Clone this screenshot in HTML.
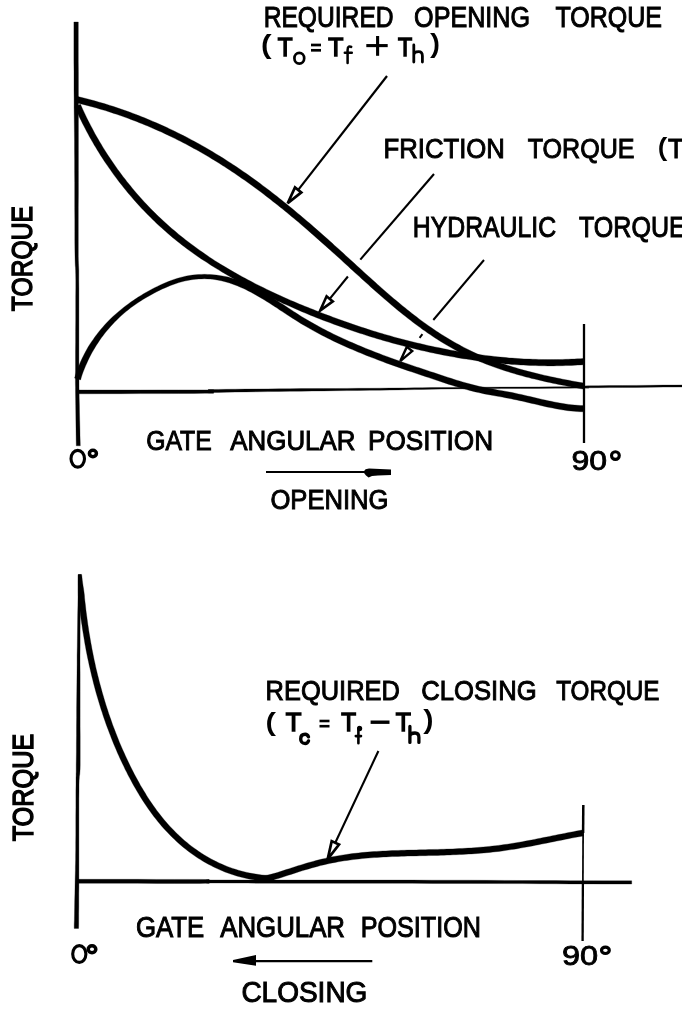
<!DOCTYPE html>
<html><head><meta charset="utf-8"><title>Gate torque curves</title>
<style>
html,body{margin:0;padding:0;background:#fff;}
body{width:682px;height:1009px;overflow:hidden;font-family:"Liberation Sans",sans-serif;}
svg{display:block;filter:blur(0.35px);}
svg text{font-family:"Liberation Sans",sans-serif;fill:#000;stroke:#000;stroke-width:1.0;}
</style></head>
<body>
<svg width="682" height="1009" viewBox="0 0 682 1009" stroke="#000" stroke-linecap="butt">
<rect x="0" y="0" width="682" height="1009" fill="#fff" stroke="none"/>
<line x1="387.0" y1="76.0" x2="298.2" y2="189.9" stroke-width="2.2"/>
<polygon points="287.7,203.3 295.0,187.4 301.3,192.4" fill="#fff" stroke-width="2.7" stroke-linejoin="miter"/>
<line x1="434.0" y1="174.0" x2="360.3" y2="259.6" stroke-width="2.1"/>
<line x1="347.9" y1="276.5" x2="329.7" y2="298.9" stroke-width="2.1"/>
<polygon points="320.2,310.5 326.6,296.3 332.8,301.4" fill="#fff" stroke-width="2.6" stroke-linejoin="miter"/>
<line x1="484.0" y1="260.0" x2="433.3" y2="320.0" stroke-width="2.0"/>
<line x1="422.4" y1="334.2" x2="419.6" y2="337.8" stroke-width="2.0"/>
<polygon points="400.3,361.1 406.8,346.9 412.2,351.1" fill="#fff" stroke-width="2.4" stroke-linejoin="miter"/>
<line x1="378.4" y1="751.0" x2="335.3" y2="842.8" stroke-width="2.1"/>
<polygon points="327.7,859.1 331.7,841.1 339.0,844.5" fill="#fff" stroke-width="2.7" stroke-linejoin="miter"/>
<polygon points="73.9,22.0 73.9,27.2 73.9,34.2 73.9,42.4 73.9,51.6 73.9,61.4 74.0,71.3 74.0,80.9 74.0,90.0 74.1,98.5 74.1,106.9 74.2,115.2 74.3,123.6 74.4,132.2 74.5,141.1 74.5,150.3 74.6,160.0 74.6,170.7 74.7,182.5 74.7,194.9 74.7,207.5 74.8,219.8 74.8,231.3 74.8,241.5 74.9,250.0 75.0,256.3 75.1,260.6 75.2,263.5 75.3,265.7 75.5,267.8 75.6,270.4 75.7,274.3 75.8,280.0 75.8,287.9 75.7,297.6 75.7,308.4 75.7,319.9 75.6,331.3 75.6,342.2 75.5,352.0 75.5,360.0 75.5,366.1 75.5,370.9 75.4,374.6 75.4,377.6 75.4,380.5 75.4,383.6 75.5,387.3 75.5,392.0 75.6,398.1 75.7,405.2 75.8,413.0 75.9,420.9 76.0,428.6 76.1,435.7 76.2,441.5 76.3,445.8 80.3,445.8 80.2,441.5 80.0,435.6 79.9,428.6 79.7,420.9 79.5,412.9 79.4,405.1 79.2,398.0 79.1,392.0 79.0,387.3 79.0,383.6 79.0,380.5 78.9,377.6 78.9,374.6 78.9,370.9 78.9,366.1 78.9,360.0 78.9,352.0 78.9,342.2 78.9,331.3 78.9,319.9 78.9,308.5 78.9,297.6 78.9,287.9 78.8,280.0 78.8,274.2 78.8,270.3 78.7,267.7 78.6,265.5 78.5,263.4 78.4,260.5 78.3,256.3 78.3,250.0 78.3,241.5 78.3,231.2 78.3,219.8 78.3,207.5 78.4,194.9 78.4,182.5 78.4,170.7 78.4,160.0 78.4,150.3 78.4,141.0 78.4,132.2 78.4,123.6 78.4,115.2 78.4,106.9 78.4,98.5 78.4,90.0 78.4,80.9 78.4,71.3 78.3,61.4 78.3,51.6 78.3,42.4 78.3,34.2 78.3,27.2 78.3,22.0" fill="#000" stroke="#000" stroke-width="0.3" stroke-linejoin="round"/>
<polygon points="77.0,393.8 87.7,393.8 102.8,393.7 120.9,393.7 140.6,393.6 160.2,393.6 178.5,393.5 193.9,393.4 205.0,393.3 211.2,393.3 213.7,393.2 213.5,389.8 211.7,389.7 209.6,389.7 208.4,389.6 208.6,392.6 212.0,392.5 218.3,392.4 226.2,392.2 235.5,392.1 245.8,391.9 256.8,391.8 268.0,391.6 279.2,391.4 290.0,391.3 300.8,391.2 312.1,391.0 323.6,390.9 335.3,390.7 347.0,390.6 358.4,390.5 369.5,390.3 380.0,390.2 389.6,390.1 398.2,389.9 406.3,389.7 414.2,389.6 422.4,389.4 431.4,389.3 441.4,389.1 453.0,388.9 467.1,388.8 483.7,388.7 501.8,388.6 520.4,388.5 538.6,388.4 555.2,388.3 569.4,388.2 580.0,388.1 586.3,388.1 588.9,388.1 588.8,386.3 587.2,386.2 585.4,386.1 585.0,387.8 585.7,387.9 590.0,387.8 598.2,387.7 609.4,387.6 622.5,387.5 636.6,387.4 650.6,387.3 663.6,387.1 674.3,387.1 682.0,387.0 682.0,385.0 674.3,385.1 663.5,385.1 650.6,385.3 636.6,385.4 622.5,385.5 609.4,385.6 598.2,385.7 590.0,385.8 585.6,385.9 584.0,386.2 585.3,387.9 587.2,388.0 588.6,388.0 588.8,386.4 586.3,386.5 580.0,386.7 569.3,386.7 555.2,386.8 538.6,386.9 520.4,387.0 501.8,387.1 483.7,387.2 467.1,387.3 453.0,387.5 441.4,387.5 431.3,387.6 422.4,387.7 414.2,387.8 406.2,387.9 398.2,388.0 389.6,388.1 380.0,388.2 369.5,388.3 358.4,388.3 347.0,388.4 335.3,388.5 323.6,388.5 312.0,388.6 300.8,388.6 290.0,388.7 279.2,388.8 268.0,388.9 256.7,389.0 245.8,389.1 235.5,389.2 226.2,389.3 218.2,389.4 212.0,389.5 208.5,389.6 207.8,392.7 209.4,392.9 211.6,393.0 213.3,393.1 213.5,389.8 211.2,389.8 205.0,389.9 193.9,389.9 178.5,389.9 160.2,389.9 140.6,390.0 120.9,390.0 102.8,390.0 87.7,390.0 77.0,390.0" fill="#000" stroke="#000" stroke-width="0.3" stroke-linejoin="round"/>
<line x1="584.0" y1="324.0" x2="584.0" y2="443.0" stroke-width="2.3"/>
<polygon points="78.5,574.5 78.4,578.7 78.3,584.1 78.2,590.6 78.0,597.8 77.9,605.7 77.7,613.8 77.6,622.0 77.5,630.0 77.4,638.1 77.3,646.6 77.1,655.4 77.1,664.4 77.0,673.5 76.9,682.5 76.8,691.4 76.7,700.0 76.6,708.7 76.6,717.7 76.5,726.7 76.5,735.6 76.4,744.1 76.4,752.0 76.3,759.1 76.2,765.0 76.2,769.3 76.2,772.0 76.1,773.7 76.1,774.8 76.1,776.1 76.0,777.8 76.0,780.6 76.0,785.0 75.9,791.2 75.9,798.9 75.9,807.5 75.8,816.7 75.8,826.1 75.8,835.0 75.7,843.1 75.7,850.0 75.6,855.5 75.6,860.0 75.5,863.8 75.4,867.1 75.4,870.4 75.3,873.7 75.2,877.5 75.1,882.0 75.0,887.4 74.9,893.6 74.7,900.4 74.6,907.2 74.5,913.7 74.4,919.7 74.2,924.7 74.2,928.4 78.6,928.4 78.7,924.8 78.7,919.8 78.7,913.8 78.8,907.2 78.8,900.4 78.8,893.7 78.9,887.5 78.9,882.0 78.9,877.6 78.9,873.8 78.9,870.4 78.9,867.2 78.9,863.8 78.9,860.0 78.9,855.5 78.9,850.0 78.9,843.2 78.9,835.0 78.9,826.1 78.9,816.8 78.9,807.5 78.9,798.9 79.0,791.2 79.0,785.0 79.1,780.7 79.3,778.0 79.4,776.3 79.6,775.2 79.8,773.9 79.9,772.2 80.1,769.4 80.2,765.0 80.2,759.1 80.2,752.0 80.2,744.1 80.2,735.6 80.1,726.7 80.1,717.7 80.1,708.7 80.1,700.0 80.1,691.4 80.1,682.5 80.1,673.5 80.0,664.4 80.0,655.4 80.1,646.6 80.1,638.1 80.1,630.0 80.2,622.0 80.3,613.8 80.5,605.7 80.6,597.9 80.8,590.6 80.9,584.2 81.0,578.7 81.1,574.5" fill="#000" stroke="#000" stroke-width="0.3" stroke-linejoin="round"/>
<polygon points="77.0,883.3 87.2,883.3 101.7,883.3 119.0,883.3 137.7,883.3 156.6,883.4 174.2,883.4 189.1,883.4 200.0,883.4 206.3,883.3 209.0,883.3 209.2,879.6 208.2,879.7 206.8,879.8 206.2,883.1 207.6,883.0 212.0,883.0 218.9,883.0 227.2,883.1 236.7,883.1 247.4,883.1 259.1,883.2 271.9,883.2 285.5,883.3 300.0,883.3 315.9,883.3 333.5,883.3 352.5,883.3 372.2,883.3 392.3,883.3 412.2,883.3 431.6,883.4 450.0,883.4 468.0,883.4 486.4,883.5 504.8,883.6 522.8,883.6 540.0,883.7 556.1,883.8 570.5,883.9 583.0,883.9 593.4,883.9 602.2,884.0 609.6,884.0 615.7,884.0 620.7,884.0 624.9,884.0 628.5,884.0 631.7,884.0 631.7,880.8 628.5,880.8 624.9,880.8 620.7,880.8 615.7,880.8 609.6,880.8 602.2,880.8 593.5,880.7 583.0,880.7 570.5,880.7 556.1,880.6 540.1,880.5 522.8,880.5 504.8,880.4 486.4,880.3 468.0,880.2 450.0,880.2 431.6,880.2 412.2,880.1 392.3,880.1 372.2,880.1 352.5,880.1 333.5,880.1 315.9,880.1 300.0,880.1 285.5,880.1 271.9,880.1 259.1,880.1 247.4,880.1 236.7,880.0 227.2,880.0 218.9,880.0 212.0,880.0 207.6,879.9 206.3,879.8 206.8,883.1 208.2,883.2 209.3,883.2 209.0,879.5 206.3,879.5 200.0,879.4 189.1,879.4 174.2,879.4 156.6,879.4 137.8,879.3 119.0,879.3 101.7,879.3 87.2,879.3 77.0,879.3" fill="#000" stroke="#000" stroke-width="0.3" stroke-linejoin="round"/>
<line x1="583.3" y1="805.0" x2="583.1" y2="833.0" stroke-width="2.5"/>
<line x1="583.1" y1="833.0" x2="582.9" y2="882.0" stroke-width="1.7"/>
<line x1="582.9" y1="882.0" x2="582.6" y2="940.9" stroke-width="2.3"/>
<polygon points="76.5,102.8 79.4,103.5 82.2,104.2 85.1,104.9 88.0,105.7 90.9,106.5 93.8,107.2 96.6,108.1 99.5,108.9 102.4,109.8 105.3,110.6 108.1,111.5 111.0,112.4 113.8,113.4 116.7,114.3 119.5,115.3 122.4,116.3 125.2,117.3 128.0,118.3 130.9,119.4 133.7,120.5 136.5,121.5 139.3,122.7 142.1,123.8 144.9,124.9 147.7,126.1 150.5,127.3 153.2,128.5 156.0,129.7 158.8,130.9 161.5,132.1 164.3,133.4 167.0,134.7 169.7,136.0 172.4,137.3 175.1,138.6 177.8,140.0 180.5,141.3 183.2,142.7 185.9,144.1 188.5,145.5 191.2,146.9 193.8,148.4 196.5,149.8 199.1,151.3 201.7,152.8 204.3,154.3 206.9,155.8 209.4,157.3 212.0,158.9 214.6,160.4 217.1,162.0 219.6,163.6 222.1,165.2 224.7,166.8 227.2,168.4 229.6,170.0 232.1,171.7 234.6,173.3 237.0,175.0 239.5,176.7 241.9,178.4 244.4,180.1 246.8,181.8 249.2,183.5 251.6,185.2 254.0,187.0 256.4,188.8 258.8,190.5 261.2,192.3 263.5,194.1 265.9,195.9 268.2,197.7 270.6,199.5 272.9,201.4 275.3,203.2 277.6,205.1 279.9,206.9 282.3,208.8 284.6,210.7 286.9,212.6 289.2,214.5 291.5,216.4 293.8,218.3 296.1,220.2 298.4,222.1 300.6,224.1 302.9,226.0 305.2,228.0 307.5,229.9 309.7,231.9 312.0,233.9 314.3,235.9 316.5,237.9 318.8,239.9 321.0,241.9 323.3,243.9 325.6,245.9 327.8,247.9 330.1,249.9 332.3,252.0 334.6,254.0 336.8,256.0 339.1,258.1 341.3,260.1 343.6,262.2 345.8,264.2 348.1,266.3 350.3,268.4 352.6,270.4 354.8,272.5 357.1,274.6 359.4,276.6 361.6,278.7 363.9,280.7 366.2,282.8 368.5,284.8 370.7,286.9 373.0,288.9 375.3,291.0 377.6,293.0 379.9,295.0 382.2,297.0 384.5,299.0 386.9,301.0 389.2,303.0 391.5,305.0 393.9,307.0 396.2,308.9 398.6,310.9 400.9,312.8 403.3,314.7 405.7,316.6 408.1,318.5 410.5,320.3 412.9,322.2 415.3,324.0 417.7,325.8 420.2,327.6 422.6,329.4 425.1,331.1 427.6,332.9 430.1,334.6 432.6,336.3 435.1,337.9 437.6,339.6 440.2,341.2 442.7,342.7 445.3,344.3 447.9,345.8 450.5,347.3 453.1,348.8 455.7,350.3 458.3,351.7 461.0,353.1 463.7,354.4 466.4,355.7 469.1,356.9 471.8,358.1 474.6,359.3 477.3,360.5 480.1,361.7 482.9,362.8 485.7,363.9 488.5,365.0 491.3,366.0 494.1,367.1 496.9,368.1 499.8,369.1 502.6,370.0 505.5,370.9 508.3,371.8 511.2,372.7 514.1,373.6 517.0,374.4 520.0,375.3 522.9,376.1 525.8,376.9 528.7,377.6 531.7,378.4 534.7,379.1 537.6,379.8 540.6,380.5 543.6,381.2 546.6,381.9 549.6,382.5 552.6,383.2 555.6,383.8 558.6,384.4 561.6,385.0 564.6,385.6 567.7,386.2 570.7,386.8 573.7,387.4 576.8,387.9 579.8,388.5 582.9,389.1 583.9,383.1 580.9,382.6 577.9,382.0 574.8,381.5 571.8,380.9 568.8,380.3 565.8,379.8 562.8,379.2 559.8,378.6 556.8,377.9 553.8,377.3 550.8,376.7 547.9,376.0 544.9,375.4 542.0,374.7 539.0,374.0 536.1,373.3 533.2,372.6 530.2,371.8 527.3,371.1 524.4,370.3 521.6,369.5 518.7,368.7 515.8,367.8 513.0,367.0 510.1,366.1 507.3,365.2 504.5,364.3 501.7,363.4 498.9,362.4 496.1,361.4 493.3,360.4 490.6,359.4 487.8,358.3 485.1,357.2 482.4,356.1 479.7,355.0 477.0,353.8 474.4,352.6 471.7,351.3 469.1,350.0 466.5,348.7 463.9,347.4 461.3,346.0 458.8,344.6 456.2,343.2 453.6,341.8 451.1,340.3 448.6,338.8 446.1,337.3 443.6,335.7 441.1,334.2 438.6,332.6 436.1,330.9 433.7,329.3 431.2,327.6 428.8,325.9 426.4,324.2 423.9,322.4 421.5,320.7 419.1,318.9 416.8,317.1 414.4,315.3 412.0,313.4 409.7,311.6 407.3,309.7 405.0,307.8 402.6,305.9 400.3,304.0 398.0,302.1 395.6,300.1 393.3,298.2 391.0,296.2 388.7,294.2 386.4,292.2 384.1,290.2 381.8,288.2 379.6,286.2 377.3,284.2 375.0,282.1 372.7,280.1 370.5,278.0 368.2,276.0 365.9,273.9 363.7,271.9 361.4,269.8 359.2,267.8 356.9,265.7 354.6,263.6 352.4,261.6 350.1,259.5 347.9,257.5 345.6,255.4 343.4,253.3 341.1,251.3 338.9,249.2 336.6,247.2 334.3,245.2 332.1,243.1 329.8,241.1 327.6,239.1 325.3,237.1 323.0,235.1 320.8,233.1 318.5,231.1 316.2,229.1 313.9,227.1 311.7,225.1 309.4,223.1 307.1,221.2 304.8,219.2 302.5,217.3 300.2,215.3 297.9,213.4 295.6,211.5 293.3,209.5 290.9,207.6 288.6,205.7 286.3,203.8 283.9,201.9 281.6,200.1 279.2,198.2 276.9,196.3 274.5,194.5 272.2,192.7 269.8,190.8 267.4,189.0 265.0,187.2 262.6,185.4 260.2,183.6 257.8,181.8 255.4,180.1 252.9,178.3 250.5,176.6 248.1,174.8 245.6,173.1 243.1,171.4 240.7,169.7 238.2,168.0 235.7,166.3 233.2,164.7 230.6,163.0 228.1,161.4 225.6,159.8 223.0,158.1 220.5,156.5 217.9,155.0 215.3,153.4 212.7,151.8 210.1,150.3 207.5,148.7 204.9,147.2 202.2,145.7 199.6,144.2 196.9,142.8 194.2,141.3 191.6,139.9 188.9,138.4 186.2,137.0 183.4,135.6 180.7,134.3 178.0,132.9 175.2,131.6 172.5,130.2 169.7,128.9 167.0,127.6 164.2,126.3 161.4,125.1 158.6,123.8 155.8,122.6 153.0,121.4 150.2,120.2 147.3,119.0 144.5,117.8 141.7,116.7 138.8,115.6 136.0,114.5 133.1,113.4 130.2,112.3 127.4,111.3 124.5,110.3 121.6,109.3 118.7,108.3 115.8,107.3 112.9,106.3 110.0,105.4 107.1,104.5 104.2,103.6 101.3,102.8 98.4,101.9 95.5,101.1 92.6,100.3 89.6,99.5 86.7,98.7 83.8,98.0 80.9,97.3 77.9,96.6" fill="#000" stroke="#000" stroke-width="0.3" stroke-linejoin="round"/>
<polygon points="74.7,106.8 75.9,109.6 77.2,112.3 78.5,115.1 79.8,117.9 81.1,120.6 82.5,123.4 83.9,126.1 85.3,128.8 86.7,131.5 88.2,134.2 89.6,136.9 91.1,139.6 92.7,142.3 94.2,144.9 95.8,147.5 97.4,150.2 99.0,152.8 100.6,155.4 102.3,157.9 103.9,160.5 105.6,163.1 107.4,165.6 109.1,168.1 110.9,170.6 112.6,173.1 114.4,175.6 116.3,178.0 118.1,180.5 120.0,182.9 121.9,185.3 123.8,187.7 125.7,190.1 127.6,192.4 129.6,194.8 131.6,197.1 133.6,199.4 135.6,201.7 137.6,203.9 139.7,206.2 141.7,208.4 143.8,210.6 145.9,212.8 148.1,215.0 150.2,217.1 152.4,219.2 154.5,221.3 156.7,223.4 158.9,225.5 161.2,227.5 163.4,229.5 165.7,231.5 167.9,233.5 170.2,235.4 172.5,237.4 174.8,239.3 177.2,241.2 179.5,243.0 181.9,244.9 184.3,246.7 186.6,248.5 189.0,250.3 191.5,252.1 193.9,253.8 196.3,255.5 198.8,257.2 201.3,258.9 203.8,260.5 206.3,262.1 208.8,263.8 211.3,265.4 213.9,267.0 216.4,268.6 219.0,270.1 221.5,271.7 224.1,273.2 226.7,274.7 229.3,276.2 231.9,277.7 234.5,279.2 237.1,280.7 239.7,282.1 242.4,283.5 245.0,284.9 247.7,286.3 250.4,287.7 253.0,289.1 255.7,290.5 258.4,291.8 261.1,293.1 263.8,294.5 266.6,295.8 269.3,297.1 272.0,298.4 274.8,299.6 277.5,300.9 280.3,302.1 283.0,303.4 285.8,304.6 288.6,305.8 291.4,307.0 294.1,308.2 296.9,309.4 299.7,310.7 302.5,311.9 305.3,313.1 308.1,314.2 310.9,315.4 313.7,316.5 316.6,317.7 319.4,318.8 322.3,319.9 325.1,321.0 328.0,322.0 330.8,323.1 333.7,324.2 336.6,325.2 339.4,326.2 342.3,327.3 345.2,328.3 348.1,329.3 351.0,330.3 353.9,331.3 356.8,332.2 359.7,333.2 362.6,334.1 365.5,335.1 368.4,336.0 371.4,336.9 374.3,337.8 377.2,338.7 380.2,339.6 383.1,340.4 386.0,341.3 389.0,342.1 391.9,342.9 394.9,343.7 397.8,344.5 400.8,345.3 403.8,346.1 406.7,346.9 409.7,347.6 412.6,348.3 415.6,349.1 418.6,349.8 421.6,350.5 424.5,351.1 427.5,351.8 430.5,352.5 433.5,353.1 436.5,353.7 439.5,354.3 442.5,354.9 445.5,355.5 448.4,356.1 451.4,356.6 454.4,357.1 457.4,357.7 460.4,358.2 463.4,358.7 466.4,359.1 469.5,359.6 472.5,360.0 475.5,360.5 478.5,360.9 481.5,361.3 484.5,361.7 487.5,362.0 490.5,362.4 493.5,362.7 496.5,363.0 499.5,363.3 502.5,363.6 505.6,363.9 508.6,364.1 511.6,364.4 514.6,364.6 517.6,364.8 520.6,365.0 523.6,365.1 526.6,365.3 529.6,365.4 532.6,365.5 535.7,365.6 538.7,365.7 541.7,365.8 544.7,365.8 547.7,365.9 550.7,365.9 553.7,365.9 556.7,365.8 559.7,365.8 562.7,365.7 565.7,365.6 568.7,365.5 571.7,365.4 574.7,365.3 577.6,365.1 580.6,364.9 583.6,364.7 583.2,358.5 580.2,358.7 577.3,358.8 574.3,359.0 571.4,359.1 568.4,359.2 565.5,359.3 562.5,359.4 559.6,359.5 556.6,359.5 553.6,359.6 550.7,359.6 547.7,359.6 544.7,359.5 541.8,359.5 538.8,359.4 535.8,359.3 532.9,359.2 529.9,359.1 526.9,359.0 524.0,358.9 521.0,358.7 518.0,358.5 515.0,358.3 512.1,358.1 509.1,357.9 506.1,357.6 503.1,357.3 500.1,357.1 497.2,356.8 494.2,356.4 491.2,356.1 488.2,355.8 485.3,355.4 482.3,355.0 479.3,354.6 476.3,354.2 473.4,353.8 470.4,353.4 467.4,352.9 464.4,352.4 461.5,352.0 458.5,351.5 455.5,350.9 452.6,350.4 449.6,349.9 446.6,349.3 443.7,348.7 440.7,348.1 437.8,347.5 434.8,346.9 431.8,346.3 428.9,345.7 425.9,345.0 423.0,344.3 420.0,343.6 417.1,342.9 414.1,342.2 411.2,341.5 408.3,340.8 405.3,340.0 402.4,339.2 399.5,338.5 396.5,337.7 393.6,336.9 390.7,336.0 387.8,335.2 384.9,334.4 381.9,333.5 379.0,332.7 376.1,331.8 373.2,330.9 370.3,330.0 367.4,329.1 364.5,328.1 361.7,327.2 358.8,326.3 355.9,325.3 353.0,324.3 350.2,323.3 347.3,322.3 344.4,321.3 341.6,320.3 338.7,319.3 335.9,318.2 333.0,317.2 330.2,316.1 327.4,315.1 324.5,314.0 321.7,312.9 318.9,311.8 316.1,310.7 313.3,309.6 310.5,308.4 307.6,307.3 304.8,306.2 302.0,305.1 299.2,304.0 296.5,302.8 293.7,301.6 290.9,300.4 288.2,299.2 285.4,298.0 282.7,296.8 280.0,295.5 277.2,294.3 274.5,293.0 271.8,291.7 269.1,290.5 266.4,289.2 263.7,287.8 261.0,286.5 258.4,285.2 255.7,283.9 253.1,282.5 250.4,281.1 247.8,279.7 245.2,278.3 242.6,276.9 240.0,275.5 237.4,274.1 234.8,272.6 232.2,271.1 229.6,269.6 227.1,268.1 224.6,266.6 222.0,265.1 219.5,263.6 217.0,262.0 214.5,260.4 212.0,258.8 209.6,257.2 207.2,255.5 204.7,253.8 202.3,252.1 199.9,250.4 197.5,248.7 195.2,247.0 192.8,245.2 190.4,243.5 188.1,241.7 185.7,239.9 183.4,238.1 181.1,236.3 178.8,234.4 176.6,232.5 174.3,230.6 172.0,228.7 169.8,226.8 167.6,224.8 165.4,222.8 163.2,220.8 161.1,218.8 158.9,216.8 156.8,214.7 154.6,212.6 152.5,210.5 150.5,208.4 148.4,206.2 146.3,204.1 144.3,201.9 142.3,199.7 140.3,197.5 138.3,195.2 136.3,193.0 134.4,190.7 132.5,188.4 130.6,186.1 128.7,183.7 126.8,181.4 125.0,179.0 123.1,176.7 121.3,174.3 119.5,171.8 117.7,169.4 116.0,167.0 114.3,164.5 112.6,162.0 110.9,159.5 109.2,157.0 107.5,154.5 105.9,152.0 104.3,149.4 102.7,146.9 101.2,144.3 99.6,141.7 98.1,139.1 96.6,136.5 95.1,133.9 93.7,131.2 92.3,128.6 90.9,125.9 89.5,123.2 88.1,120.6 86.8,117.9 85.5,115.2 84.2,112.4 82.9,109.7 81.7,107.0 80.5,104.2" fill="#000" stroke="#000" stroke-width="0.3" stroke-linejoin="round"/>
<polygon points="80.6,379.9 81.4,377.1 82.3,374.3 83.3,371.5 84.4,368.8 85.5,366.1 86.7,363.4 87.9,360.7 89.2,358.0 90.5,355.4 91.9,352.8 93.4,350.3 94.9,347.7 96.4,345.2 98.1,342.7 99.7,340.2 101.4,337.8 103.2,335.4 105.0,333.1 106.9,330.7 108.9,328.5 110.8,326.2 112.9,324.0 114.9,321.8 117.1,319.7 119.2,317.6 121.4,315.6 123.7,313.6 126.0,311.6 128.4,309.7 130.7,307.8 133.2,306.0 135.7,304.3 138.2,302.6 140.7,300.9 143.3,299.3 145.9,297.7 148.6,296.2 151.3,294.7 153.9,293.2 156.7,291.8 159.4,290.4 162.2,289.1 164.9,287.9 167.7,286.7 170.5,285.5 173.3,284.5 176.1,283.5 178.9,282.6 181.8,281.8 184.6,281.1 187.4,280.5 190.3,279.9 193.1,279.5 195.9,279.2 198.8,279.0 201.6,278.9 204.4,278.8 207.3,278.9 210.1,279.1 212.9,279.3 215.7,279.7 218.5,280.2 221.3,280.8 224.1,281.5 226.9,282.2 229.6,283.1 232.3,284.0 235.0,285.0 237.7,286.0 240.4,287.2 243.0,288.3 245.7,289.6 248.3,290.9 251.0,292.3 253.6,293.7 256.2,295.2 258.8,296.7 261.4,298.2 264.1,299.8 266.7,301.4 269.3,303.1 271.9,304.8 274.5,306.4 277.1,308.1 279.7,309.9 282.3,311.6 284.9,313.3 287.5,315.0 290.2,316.7 292.8,318.4 295.4,320.1 298.1,321.7 300.7,323.4 303.4,325.0 306.1,326.5 308.8,328.1 311.4,329.6 314.1,331.1 316.8,332.5 319.5,334.0 322.2,335.4 324.9,336.8 327.7,338.2 330.4,339.5 333.1,340.9 335.9,342.2 338.6,343.5 341.3,344.7 344.1,346.0 346.8,347.2 349.6,348.4 352.4,349.6 355.2,350.8 357.9,352.0 360.7,353.1 363.5,354.2 366.3,355.4 369.1,356.5 371.9,357.6 374.7,358.6 377.5,359.7 380.3,360.8 383.1,361.8 385.9,362.9 388.8,363.9 391.6,364.9 394.4,365.9 397.3,366.9 400.1,367.9 403.0,368.9 405.8,369.9 408.7,370.9 411.5,371.8 414.4,372.8 417.3,373.8 420.1,374.8 423.0,375.7 425.9,376.7 428.7,377.6 431.6,378.6 434.5,379.6 437.4,380.5 440.3,381.5 443.2,382.5 446.1,383.4 449.0,384.4 452.0,385.3 454.9,386.2 457.8,387.1 460.8,388.0 463.7,388.8 466.7,389.6 469.6,390.4 472.6,391.2 475.5,391.9 478.5,392.6 481.5,393.2 484.5,393.9 487.4,394.4 490.4,395.0 493.4,395.5 496.3,396.1 499.3,396.6 502.2,397.1 505.2,397.7 508.1,398.2 511.1,398.8 514.0,399.4 517.0,400.0 519.9,400.7 522.9,401.3 525.8,402.0 528.8,402.7 531.8,403.4 534.8,404.1 537.8,404.8 540.7,405.5 543.8,406.2 546.8,406.9 549.8,407.5 552.8,408.1 555.8,408.7 558.9,409.3 561.9,409.8 564.9,410.2 568.0,410.7 571.0,411.0 574.1,411.3 577.2,411.6 580.3,411.7 583.3,411.8 583.5,405.6 580.5,405.5 577.6,405.3 574.7,405.1 571.7,404.8 568.8,404.4 565.8,404.0 562.9,403.5 559.9,403.1 557.0,402.5 554.0,401.9 551.1,401.3 548.1,400.7 545.1,400.1 542.2,399.4 539.2,398.7 536.2,398.0 533.2,397.3 530.2,396.6 527.3,395.9 524.3,395.2 521.3,394.5 518.3,393.9 515.3,393.2 512.3,392.6 509.3,392.0 506.3,391.5 503.4,390.9 500.4,390.4 497.4,389.9 494.5,389.3 491.6,388.8 488.6,388.3 485.7,387.7 482.8,387.1 479.9,386.5 477.0,385.8 474.1,385.1 471.2,384.3 468.3,383.5 465.4,382.7 462.5,381.9 459.6,381.0 456.7,380.2 453.8,379.3 451.0,378.3 448.1,377.4 445.2,376.5 442.3,375.5 439.4,374.6 436.5,373.6 433.6,372.6 430.7,371.7 427.9,370.7 425.0,369.7 422.1,368.8 419.3,367.8 416.4,366.9 413.6,365.9 410.7,364.9 407.9,363.9 405.0,363.0 402.2,362.0 399.4,361.0 396.5,360.0 393.7,359.0 390.9,358.0 388.1,356.9 385.3,355.9 382.5,354.9 379.7,353.8 376.9,352.8 374.2,351.7 371.4,350.6 368.6,349.5 365.9,348.4 363.1,347.3 360.3,346.1 357.6,345.0 354.9,343.8 352.1,342.6 349.4,341.4 346.7,340.2 344.0,339.0 341.3,337.7 338.6,336.5 335.9,335.2 333.2,333.9 330.5,332.5 327.8,331.2 325.1,329.8 322.5,328.4 319.8,327.0 317.2,325.6 314.5,324.1 311.9,322.6 309.2,321.1 306.6,319.5 304.0,318.0 301.4,316.4 298.8,314.8 296.2,313.1 293.6,311.4 291.0,309.7 288.4,308.0 285.8,306.3 283.2,304.6 280.5,302.9 277.9,301.2 275.3,299.5 272.7,297.8 270.0,296.1 267.4,294.4 264.7,292.8 262.0,291.2 259.3,289.7 256.6,288.2 253.8,286.7 251.1,285.4 248.3,284.1 245.5,282.8 242.7,281.6 239.8,280.5 236.9,279.6 234.0,278.7 231.1,277.9 228.2,277.1 225.2,276.5 222.3,275.9 219.3,275.5 216.4,275.1 213.4,274.8 210.4,274.6 207.5,274.4 204.5,274.3 201.5,274.4 198.5,274.5 195.5,274.7 192.5,275.1 189.5,275.5 186.5,276.0 183.6,276.7 180.6,277.4 177.6,278.3 174.7,279.2 171.8,280.2 168.9,281.3 166.0,282.5 163.1,283.7 160.3,285.0 157.4,286.4 154.6,287.8 151.8,289.2 149.1,290.7 146.4,292.2 143.6,293.8 141.0,295.4 138.3,297.1 135.7,298.8 133.1,300.6 130.5,302.3 128.0,304.2 125.5,306.0 123.0,307.9 120.6,309.9 118.2,311.9 115.9,313.9 113.5,316.0 111.3,318.1 109.1,320.3 106.9,322.6 104.8,324.8 102.7,327.2 100.7,329.5 98.7,331.9 96.8,334.4 95.0,336.8 93.2,339.4 91.4,341.9 89.7,344.5 88.1,347.1 86.6,349.8 85.1,352.5 83.7,355.3 82.3,358.0 81.0,360.8 79.8,363.6 78.6,366.5 77.5,369.4 76.5,372.3 75.5,375.2 74.6,378.1" fill="#000" stroke="#000" stroke-width="0.3" stroke-linejoin="round"/>
<polygon points="78.0,574.6 78.0,577.6 78.0,580.6 78.0,583.5 78.1,586.5 78.1,589.5 78.2,592.5 78.4,595.5 78.7,598.5 79.0,601.5 79.3,604.5 79.6,607.5 80.0,610.5 80.3,613.5 80.7,616.5 81.1,619.5 81.5,622.6 82.0,625.6 82.4,628.6 82.9,631.6 83.4,634.6 83.9,637.6 84.4,640.6 84.9,643.7 85.5,646.7 86.0,649.7 86.6,652.7 87.2,655.7 87.8,658.7 88.5,661.7 89.1,664.7 89.8,667.7 90.5,670.7 91.2,673.7 91.9,676.7 92.7,679.7 93.4,682.7 94.2,685.7 95.0,688.7 95.8,691.7 96.6,694.6 97.5,697.6 98.4,700.6 99.3,703.5 100.2,706.5 101.1,709.4 102.1,712.3 103.0,715.3 104.0,718.2 105.0,721.1 106.0,724.0 107.1,726.9 108.2,729.8 109.3,732.7 110.4,735.6 111.5,738.5 112.6,741.3 113.8,744.2 115.0,747.0 116.2,749.8 117.4,752.7 118.7,755.5 119.9,758.3 121.2,761.1 122.6,763.9 123.9,766.6 125.2,769.4 126.6,772.1 128.0,774.9 129.4,777.6 130.9,780.3 132.3,783.0 133.8,785.7 135.3,788.3 136.9,791.0 138.4,793.6 140.0,796.3 141.7,798.9 143.3,801.4 145.0,804.0 146.7,806.5 148.4,809.0 150.2,811.5 152.0,814.0 153.8,816.4 155.7,818.8 157.6,821.2 159.5,823.6 161.5,825.9 163.5,828.2 165.6,830.4 167.6,832.6 169.7,834.8 171.9,837.0 174.1,839.1 176.3,841.2 178.5,843.2 180.8,845.2 183.1,847.2 185.5,849.1 187.9,850.9 190.3,852.8 192.8,854.5 195.3,856.3 197.8,858.0 200.4,859.6 203.0,861.2 205.6,862.7 208.3,864.2 211.0,865.6 213.7,867.0 216.5,868.3 219.3,869.6 222.1,870.8 224.9,872.0 227.8,873.0 230.7,874.1 233.7,875.0 236.6,876.0 239.6,876.8 242.6,877.6 245.7,878.3 248.7,878.9 251.8,879.5 254.9,880.0 258.0,880.5 261.2,880.8 264.3,881.1 267.5,881.4 270.7,881.5 273.9,881.6 274.1,875.6 271.0,875.5 267.9,875.4 264.8,875.2 261.8,874.9 258.8,874.5 255.8,874.1 252.8,873.6 249.9,873.1 247.0,872.4 244.1,871.8 241.2,871.0 238.3,870.2 235.5,869.3 232.7,868.4 229.9,867.4 227.1,866.4 224.4,865.3 221.7,864.1 219.0,862.9 216.3,861.6 213.7,860.3 211.1,858.9 208.6,857.5 206.0,856.0 203.5,854.5 201.1,852.9 198.6,851.3 196.2,849.6 193.9,847.9 191.5,846.2 189.2,844.4 187.0,842.5 184.7,840.7 182.5,838.7 180.4,836.8 178.2,834.8 176.1,832.7 174.0,830.6 172.0,828.5 170.0,826.4 168.0,824.2 166.1,822.0 164.1,819.7 162.3,817.4 160.4,815.1 158.6,812.8 156.8,810.4 155.1,808.0 153.3,805.6 151.6,803.1 150.0,800.7 148.3,798.2 146.7,795.7 145.2,793.1 143.6,790.5 142.1,788.0 140.5,785.4 139.1,782.7 137.6,780.1 136.2,777.5 134.7,774.8 133.3,772.1 132.0,769.4 130.6,766.7 129.3,764.0 128.0,761.3 126.7,758.5 125.4,755.8 124.2,753.0 122.9,750.2 121.7,747.5 120.5,744.7 119.3,741.9 118.2,739.1 117.1,736.2 116.0,733.4 114.9,730.6 113.8,727.7 112.7,724.9 111.7,722.0 110.7,719.1 109.7,716.3 108.7,713.4 107.8,710.5 106.8,707.6 105.9,704.7 105.0,701.8 104.1,698.8 103.3,695.9 102.4,693.0 101.6,690.0 100.8,687.1 100.0,684.2 99.2,681.2 98.5,678.3 97.7,675.3 97.0,672.3 96.3,669.4 95.6,666.4 95.0,663.4 94.3,660.5 93.7,657.5 93.1,654.5 92.5,651.5 91.9,648.6 91.4,645.6 90.8,642.6 90.3,639.6 89.8,636.6 89.3,633.7 88.8,630.7 88.4,627.7 87.9,624.7 87.5,621.7 87.1,618.7 86.7,615.8 86.3,612.8 85.9,609.8 85.6,606.8 85.3,603.9 84.9,600.9 84.6,597.9 84.4,595.0 84.0,592.0 83.6,589.1 83.1,586.1 82.7,583.2 82.3,580.3 82.0,577.3 81.6,574.4" fill="#000" stroke="#000" stroke-width="0.3" stroke-linejoin="round"/>
<polygon points="254.8,881.8 257.8,882.0 260.9,882.0 264.1,881.7 267.1,881.3 270.2,880.7 273.2,879.9 276.2,879.1 279.2,878.2 282.2,877.3 285.1,876.3 288.1,875.3 291.0,874.4 294.0,873.4 296.9,872.5 299.8,871.5 302.8,870.6 305.7,869.7 308.7,868.9 311.6,868.0 314.6,867.2 317.5,866.4 320.5,865.6 323.4,864.9 326.4,864.2 329.3,863.6 332.3,862.9 335.3,862.4 338.2,861.8 341.2,861.3 344.2,860.8 347.2,860.4 350.1,860.0 353.1,859.6 356.1,859.2 359.1,858.9 362.1,858.6 365.1,858.3 368.1,858.1 371.1,857.8 374.1,857.6 377.1,857.4 380.1,857.2 383.2,857.0 386.2,856.9 389.2,856.7 392.2,856.6 395.3,856.5 398.3,856.4 401.3,856.3 404.4,856.2 407.4,856.1 410.4,856.0 413.5,856.0 416.5,855.9 419.6,855.8 422.6,855.7 425.7,855.7 428.7,855.6 431.8,855.5 434.8,855.4 437.9,855.4 440.9,855.3 444.0,855.2 447.0,855.1 450.1,855.0 453.1,854.8 456.2,854.7 459.3,854.6 462.3,854.4 465.4,854.3 468.4,854.1 471.5,853.9 474.6,853.7 477.6,853.5 480.7,853.2 483.7,853.0 486.8,852.7 489.9,852.4 492.9,852.1 496.0,851.7 499.0,851.4 502.1,851.0 505.1,850.5 508.2,850.1 511.3,849.6 514.3,849.2 517.3,848.7 520.4,848.1 523.4,847.6 526.5,847.0 529.5,846.5 532.5,845.9 535.5,845.3 538.6,844.7 541.6,844.1 544.6,843.5 547.6,842.9 550.6,842.3 553.6,841.7 556.6,841.1 559.6,840.5 562.6,839.9 565.5,839.3 568.5,838.7 571.5,838.1 574.4,837.6 577.4,837.0 580.4,836.5 583.3,836.0 582.3,830.0 579.3,830.6 576.3,831.1 573.3,831.7 570.3,832.2 567.4,832.8 564.4,833.4 561.4,834.0 558.4,834.6 555.4,835.2 552.4,835.8 549.4,836.4 546.4,837.0 543.4,837.6 540.4,838.2 537.4,838.8 534.4,839.4 531.4,840.0 528.4,840.6 525.4,841.1 522.4,841.7 519.4,842.2 516.3,842.7 513.3,843.2 510.3,843.7 507.3,844.2 504.3,844.6 501.3,845.0 498.3,845.4 495.3,845.8 492.3,846.1 489.3,846.4 486.2,846.7 483.2,847.0 480.2,847.2 477.2,847.5 474.1,847.7 471.1,847.9 468.1,848.1 465.0,848.3 462.0,848.4 459.0,848.6 455.9,848.7 452.9,848.9 449.9,849.0 446.8,849.1 443.8,849.2 440.7,849.3 437.7,849.4 434.6,849.4 431.6,849.5 428.6,849.6 425.5,849.7 422.5,849.7 419.4,849.8 416.4,849.9 413.3,850.0 410.3,850.0 407.2,850.1 404.2,850.2 401.1,850.3 398.1,850.4 395.0,850.5 392.0,850.6 388.9,850.7 385.9,850.9 382.8,851.0 379.8,851.2 376.7,851.4 373.7,851.6 370.6,851.8 367.6,852.1 364.6,852.3 361.5,852.6 358.5,852.9 355.4,853.3 352.4,853.6 349.3,854.0 346.3,854.5 343.3,854.9 340.2,855.4 337.2,855.9 334.2,856.5 331.1,857.1 328.1,857.7 325.1,858.4 322.0,859.1 319.0,859.8 316.0,860.6 313.0,861.4 310.0,862.2 307.0,863.1 304.0,864.0 301.0,864.9 298.0,865.8 295.1,866.8 292.1,867.7 289.2,868.7 286.2,869.6 283.3,870.6 280.3,871.5 277.4,872.5 274.6,873.3 271.7,874.1 268.9,874.8 266.1,875.4 263.4,875.8 260.7,876.0 258.0,876.0 255.2,875.8" fill="#000" stroke="#000" stroke-width="0.3" stroke-linejoin="round"/>
<line x1="266" y1="472" x2="365" y2="472" stroke-width="1.9"/>
<polygon points="363.3,472 365.6,469.2 369,468.4 380,468.9 391,469.6 391,475 378,475.4 372,476 368.6,477.6 366,475.6" fill="#000" stroke="none"/>
<line x1="240" y1="961.2" x2="372.3" y2="961.2" stroke-width="2.3"/>
<polygon points="233,959.9 233,962.3 256,965.8 256,955" fill="#000" stroke="none"/>
<text x="263.68" y="27.2" font-size="28.9" textLength="129.90" lengthAdjust="spacingAndGlyphs" >REQUIRED</text>
<text x="414.11" y="27.2" font-size="28.9" textLength="115.97" lengthAdjust="spacingAndGlyphs" >OPENING</text>
<text x="555.44" y="27.2" font-size="28.9" textLength="106.63" lengthAdjust="spacingAndGlyphs" >TORQUE</text>
<text x="383.59" y="158" font-size="28.4" textLength="121.30" lengthAdjust="spacingAndGlyphs" >FRICTION</text>
<text x="527.74" y="158" font-size="28.4" textLength="106.83" lengthAdjust="spacingAndGlyphs" >TORQUE</text>
<text x="658.74" y="154.5" font-size="24" textLength="6.78" lengthAdjust="spacingAndGlyphs" style="stroke-width:2.0">(</text>
<text x="667.90" y="158" font-size="28.4" textLength="16.20" lengthAdjust="spacingAndGlyphs" >T</text>
<text x="412.87" y="237.4" font-size="29" textLength="143.18" lengthAdjust="spacingAndGlyphs" >HYDRAULIC</text>
<text x="579.04" y="237.4" font-size="29" textLength="106.63" lengthAdjust="spacingAndGlyphs" >TORQUE</text>
<text x="146.19" y="450.2" font-size="28.4" textLength="65.55" lengthAdjust="spacingAndGlyphs" >GATE</text>
<text x="230.25" y="450.2" font-size="28.4" textLength="125.25" lengthAdjust="spacingAndGlyphs" >ANGULAR</text>
<text x="367.95" y="450.2" font-size="28.4" textLength="125.19" lengthAdjust="spacingAndGlyphs" >POSITION</text>
<text x="270.39" y="508.8" font-size="28.4" textLength="118.13" lengthAdjust="spacingAndGlyphs" >OPENING</text>
<text x="571.40" y="470.4" font-size="27.6" textLength="35.55" lengthAdjust="spacingAndGlyphs" style="stroke-width:0.85">90</text>
<text x="265.61" y="700.4" font-size="28" textLength="134.20" lengthAdjust="spacingAndGlyphs" >REQUIRED</text>
<text x="421.30" y="700.4" font-size="28" textLength="115.32" lengthAdjust="spacingAndGlyphs" >CLOSING</text>
<text x="556.26" y="700.4" font-size="28" textLength="103.18" lengthAdjust="spacingAndGlyphs" >TORQUE</text>
<text x="135.94" y="937.1" font-size="28.8" textLength="68.34" lengthAdjust="spacingAndGlyphs" >GATE</text>
<text x="220.25" y="937.1" font-size="28.8" textLength="124.75" lengthAdjust="spacingAndGlyphs" >ANGULAR</text>
<text x="360.74" y="937.1" font-size="28.8" textLength="120.22" lengthAdjust="spacingAndGlyphs" >POSITION</text>
<text x="241.38" y="1001.6" font-size="29" textLength="126.01" lengthAdjust="spacingAndGlyphs" >CLOSING</text>
<text x="561.97" y="965.4" font-size="28.4" textLength="36.20" lengthAdjust="spacingAndGlyphs" style="stroke-width:0.85">90</text>
<ellipse cx="77.75" cy="458.75" rx="6.75" ry="8.35" fill="none" stroke-width="3.1"/>
<ellipse cx="92.9" cy="453.5" rx="3.5" ry="3.2" fill="none" stroke-width="3.5"/>
<ellipse cx="615.4" cy="455.6" rx="3.9" ry="3.8" fill="none" stroke-width="3.1"/>
<ellipse cx="79.3" cy="954" rx="6.6" ry="8.4" fill="none" stroke-width="3.1"/>
<ellipse cx="92" cy="949.3" rx="3.8" ry="3.5" fill="none" stroke-width="3.5"/>
<ellipse cx="605.4" cy="950.3" rx="3.9" ry="3.2" fill="none" stroke-width="3.2"/>
<text x="262.24" y="53.2" font-size="23" textLength="7.28" lengthAdjust="spacingAndGlyphs" style="stroke-width:2.2">(</text>
<text x="277.76" y="55.6" font-size="26" textLength="14.80" lengthAdjust="spacingAndGlyphs" style="stroke-width:1.5">T</text>
<ellipse cx="299.3" cy="58.3" rx="4.9" ry="5.4" fill="none" stroke-width="2.7"/>
<line x1="311" y1="45" x2="321" y2="45" stroke-width="2.7"/>
<line x1="311" y1="50.3" x2="321" y2="50.3" stroke-width="2.7"/>
<text x="328.24" y="55.6" font-size="26" textLength="15.12" lengthAdjust="spacingAndGlyphs" style="stroke-width:1.5">T</text>
<path d="M351.2,46.9 C349.8,46.0 347.6,46.0 347.6,49.9 L347.6,63.0 M344.8,52.7 L351.8,52.7" fill="none" stroke-width="2.5" stroke-linecap="round" stroke-linejoin="round"/>
<line x1="366.3" y1="45.6" x2="387.7" y2="45.6" stroke-width="3.1"/>
<line x1="377.6" y1="36" x2="377.6" y2="55.8" stroke-width="3.1"/>
<text x="397.98" y="55.6" font-size="26" textLength="14.15" lengthAdjust="spacingAndGlyphs" style="stroke-width:1.5">T</text>
<path d="M413.8,45.0 L413.8,62.0 M413.8,55.3 C413.8,52.1 417.1,51.7 418.7,51.7 C421.8,51.7 422.4,53.3 422.4,56.1 L422.4,62.0" fill="none" stroke-width="2.8" stroke-linecap="round" stroke-linejoin="round"/>
<text x="432.08" y="51.8" font-size="23" textLength="6.78" lengthAdjust="spacingAndGlyphs" style="stroke-width:2.2">)</text>
<text x="266.77" y="729.7" font-size="24" textLength="7.16" lengthAdjust="spacingAndGlyphs" style="stroke-width:2.2">(</text>
<text x="285.82" y="731.4" font-size="26.2" textLength="15.66" lengthAdjust="spacingAndGlyphs" style="stroke-width:1.5">T</text>
<path d="M308.5,736.8 C307.5,734.2 306.2,734.2 305.2,734.2 C301.9,734.2 300.7,736.6 300.7,738.9 C300.7,741.1 301.9,743.5 305.2,743.5 C306.2,743.5 307.5,743.5 308.5,740.9" fill="none" stroke-width="3.4" stroke-linecap="round" stroke-linejoin="round"/>
<line x1="319.5" y1="721" x2="329.5" y2="721" stroke-width="2.6"/>
<line x1="319.5" y1="726.2" x2="329.5" y2="726.2" stroke-width="2.6"/>
<text x="341.26" y="731.4" font-size="26.2" textLength="14.80" lengthAdjust="spacingAndGlyphs" style="stroke-width:1.5">T</text>
<path d="M360.5,727.5 C359.0,726.6 358.4,726.6 358.4,730.5 L358.4,743.3 M355.8,736.1 L361.0,736.1" fill="none" stroke-width="2.6" stroke-linecap="round" stroke-linejoin="round"/>
<circle cx="359.6" cy="728.6" r="2.6" fill="#000" stroke="none"/>
<line x1="370.6" y1="722.2" x2="389.5" y2="722.2" stroke-width="3.4"/>
<text x="395.64" y="731.4" font-size="26.2" textLength="15.12" lengthAdjust="spacingAndGlyphs" style="stroke-width:1.5">T</text>
<path d="M409.9,726.4 L409.9,742.4 M409.9,736.6 C409.9,733.4 413.4,733.0 415.0,733.0 C418.2,733.0 418.9,734.6 418.9,737.4 L418.9,742.4" fill="none" stroke-width="3.3" stroke-linecap="round" stroke-linejoin="round"/>
<text x="425.28" y="728.4" font-size="23" textLength="7.03" lengthAdjust="spacingAndGlyphs" style="stroke-width:2.2">)</text>
<text transform="translate(31.9,310.6) rotate(-90)" x="-0.55" y="0" font-size="29.4" textLength="105.21" lengthAdjust="spacingAndGlyphs" style="stroke-width:1.4">TORQUE</text>
<text transform="translate(32.8,840.8) rotate(-90)" x="-0.57" y="0" font-size="29.4" textLength="107.65" lengthAdjust="spacingAndGlyphs" style="stroke-width:1.4">TORQUE</text>
</svg>
</body></html>
